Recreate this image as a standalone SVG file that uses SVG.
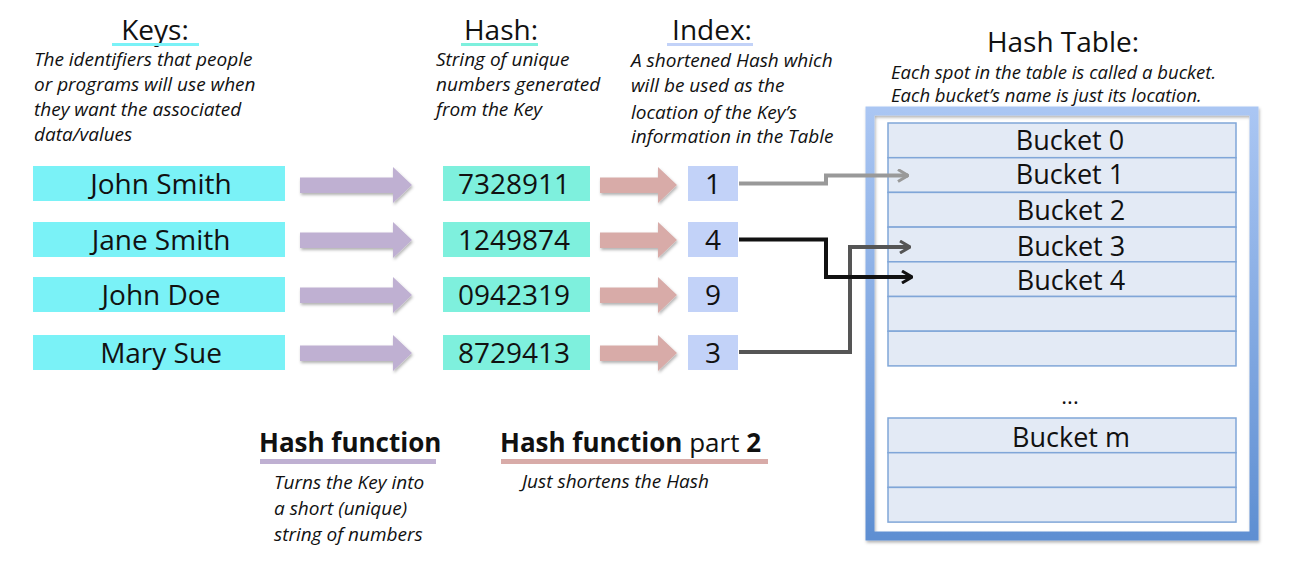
<svg xmlns="http://www.w3.org/2000/svg" width="1298" height="572" viewBox="0 0 1298 572">
<defs>
<style>
text{font-family:"Open Sans","Liberation Sans",sans-serif;fill:#111}
.title{font-size:28px;text-anchor:middle}
.desc{font-size:19px;font-style:italic}
.lbl{font-size:28px;text-anchor:middle}
.bk{font-size:27px;text-anchor:middle}
.key{fill:#7af2f7}
.hash{fill:#7ef0dd}
.idx{fill:#c2d2f8}
.row{fill:#e3eaf5;stroke:#80a6d8;stroke-width:1.5}
.parr{fill:#bfb0d2}
.rarr{fill:#d8aba8}
.conn{fill:none;stroke-width:4;stroke-linejoin:miter}
.bold{font-weight:bold}
</style>
<filter id="sh" x="-10%" y="-20%" width="130%" height="160%">
<feDropShadow dx="1" dy="2" stdDeviation="1.5" flood-color="#000" flood-opacity="0.3"/>
</filter>
<linearGradient id="fr" x1="0" y1="0" x2="0" y2="1">
<stop offset="0" stop-color="#aac6f3"/>
<stop offset="1" stop-color="#5f8fd2"/>
</linearGradient>
<marker id="mg1" viewBox="0 0 12 14" refX="11" refY="7" markerWidth="12" markerHeight="14" markerUnits="userSpaceOnUse" orient="auto">
<path d="M1,1 L11,7 L1,13" fill="none" stroke="#999" stroke-width="3"/>
</marker>
<marker id="mg2" viewBox="0 0 12 14" refX="11" refY="7" markerWidth="12" markerHeight="14" markerUnits="userSpaceOnUse" orient="auto">
<path d="M1,1 L11,7 L1,13" fill="none" stroke="#555" stroke-width="3"/>
</marker>
<marker id="mg3" viewBox="0 0 12 14" refX="11" refY="7" markerWidth="12" markerHeight="14" markerUnits="userSpaceOnUse" orient="auto">
<path d="M1,1 L11,7 L1,13" fill="none" stroke="#111" stroke-width="3"/>
</marker>
</defs>
<rect width="1298" height="572" fill="#fff"/>

<g id="keys-header">
<text class="title" x="155" y="40">Keys:</text>
<rect x="112" y="43" width="87" height="3" fill="#7af2f7"/>
<text class="desc" x="34" y="66">The identifiers that people</text>
<text class="desc" x="34" y="91">or programs will use when</text>
<text class="desc" x="34" y="116">they want the associated</text>
<text class="desc" x="34" y="141">data/values</text>
</g>
<g id="hash-header">
<text class="title" x="501" y="40">Hash:</text>
<rect x="461" y="43" width="77" height="3" fill="#7ef0dd"/>
<text class="desc" x="436" y="66">String of unique</text>
<text class="desc" x="436" y="91">numbers generated</text>
<text class="desc" x="436" y="116">from the Key</text>
</g>
<g id="index-header">
<text class="title" x="712" y="40">Index:</text>
<rect x="667" y="43" width="86" height="3" fill="#c2d2f8"/>
<text class="desc" x="631" y="67">A shortened Hash which</text>
<text class="desc" x="631" y="92">will be used as the</text>
<text class="desc" x="631" y="119">location of the Key’s</text>
<text class="desc" x="631" y="143">information in the Table</text>
</g>
<g id="table-header">
<text class="title" x="1063" y="52">Hash Table:</text>
<text class="desc" x="891" y="79" style="font-size:18.5px">Each spot in the table is called a bucket.</text>
<text class="desc" x="891" y="102" style="font-size:18.5px">Each bucket’s name is just its location.</text>
</g>

<g id="key-john-smith"><rect class="key" x="33" y="166" width="252" height="35"/><text class="lbl" x="161" y="194">John Smith</text></g>
<g id="key-jane-smith"><rect class="key" x="33" y="222" width="252" height="35"/><text class="lbl" x="161" y="250">Jane Smith</text></g>
<g id="key-john-doe"><rect class="key" x="33" y="277" width="252" height="35"/><text class="lbl" x="161" y="305">John Doe</text></g>
<g id="key-mary-sue"><rect class="key" x="33" y="335" width="252" height="35"/><text class="lbl" x="161" y="363">Mary Sue</text></g>

<g id="hash-1"><rect class="hash" x="443" y="166" width="147" height="35"/><text class="lbl" x="514" y="194">7328911</text></g>
<g id="hash-2"><rect class="hash" x="443" y="222" width="147" height="35"/><text class="lbl" x="514" y="250">1249874</text></g>
<g id="hash-3"><rect class="hash" x="443" y="277" width="147" height="35"/><text class="lbl" x="514" y="305">0942319</text></g>
<g id="hash-4"><rect class="hash" x="443" y="335" width="147" height="35"/><text class="lbl" x="514" y="363">8729413</text></g>

<g id="index-1"><rect class="idx" x="688" y="166" width="50" height="35"/><text class="lbl" x="713" y="194">1</text></g>
<g id="index-4"><rect class="idx" x="688" y="222" width="50" height="35"/><text class="lbl" x="713" y="250">4</text></g>
<g id="index-9"><rect class="idx" x="688" y="277" width="50" height="35"/><text class="lbl" x="713" y="305">9</text></g>
<g id="index-3"><rect class="idx" x="688" y="335" width="50" height="35"/><text class="lbl" x="713" y="363">3</text></g>

<g id="hash-table">
<rect x="870" y="111" width="384" height="425" fill="none" stroke="url(#fr)" stroke-width="9" filter="url(#sh)"/>
<g id="buckets-top">
<rect class="row" x="888" y="123" width="348" height="34.7"/>
<rect class="row" x="888" y="157.7" width="348" height="34.7"/>
<rect class="row" x="888" y="192.4" width="348" height="34.7"/>
<rect class="row" x="888" y="227.1" width="348" height="34.7"/>
<rect class="row" x="888" y="261.8" width="348" height="34.7"/>
<rect class="row" x="888" y="296.5" width="348" height="34.7"/>
<rect class="row" x="888" y="331.2" width="348" height="34.7"/>
<text class="bk" x="1070" y="150">Bucket 0</text>
<text class="bk" x="1070" y="184">Bucket 1</text>
<text class="bk" x="1071" y="220">Bucket 2</text>
<text class="bk" x="1071" y="256">Bucket 3</text>
<text class="bk" x="1071" y="290">Bucket 4</text>
</g>
<text x="1070" y="404" style="font-size:22px;text-anchor:middle">...</text>
<g id="buckets-bottom">
<rect class="row" x="888" y="418" width="348" height="34.7"/>
<rect class="row" x="888" y="452.7" width="348" height="34.7"/>
<rect class="row" x="888" y="487.4" width="348" height="34.7"/>
<text class="bk" x="1071" y="447">Bucket m</text>
</g>
</g>

<g id="connectors">
<g filter="url(#sh)">
<path class="parr" d="M300,177.5 H393 V167 L412,185 L393,203 V193 H300 Z"/>
<path class="parr" d="M300,232.5 H393 V222 L412,240 L393,258 V248 H300 Z"/>
<path class="parr" d="M300,287.5 H393 V277 L412,295 L393,313 V303 H300 Z"/>
<path class="parr" d="M300,345.5 H393 V335 L412,353 L393,371 V361 H300 Z"/>
<path class="rarr" d="M600,177.5 H658 V167 L677,185 L658,203 V193 H600 Z"/>
<path class="rarr" d="M600,232.5 H658 V222 L677,240 L658,258 V248 H600 Z"/>
<path class="rarr" d="M600,287.5 H658 V277 L677,295 L658,313 V303 H600 Z"/>
<path class="rarr" d="M600,345.5 H658 V335 L677,353 L658,371 V361 H600 Z"/>
</g>
<path class="conn" stroke="#999" d="M739,183.5 H826 V175.5 H908" marker-end="url(#mg1)"/>
<path class="conn" stroke="#555" d="M739,352 H850 V247 H910" marker-end="url(#mg2)"/>
<path class="conn" stroke="#111" d="M739,239.5 H826 V277 H912" marker-end="url(#mg3)"/>
</g>

<g id="hash-function-label">
<text x="259" y="452" style="font-size:26px;font-weight:bold">Hash function</text>
<rect x="260" y="459" width="176" height="5" fill="#bfb0d2"/>
<text class="desc" x="274" y="489">Turns the Key into</text>
<text class="desc" x="274" y="515">a short (unique)</text>
<text class="desc" x="274" y="541">string of numbers</text>
</g>
<g id="hash-function-2-label">
<text x="500" y="452" style="font-size:26px"><tspan class="bold">Hash function</tspan> part <tspan class="bold">2</tspan></text>
<rect x="501" y="459" width="267" height="5" fill="#d8aba8"/>
<text class="desc" x="522" y="488">Just shortens the Hash</text>
</g>
</svg>
